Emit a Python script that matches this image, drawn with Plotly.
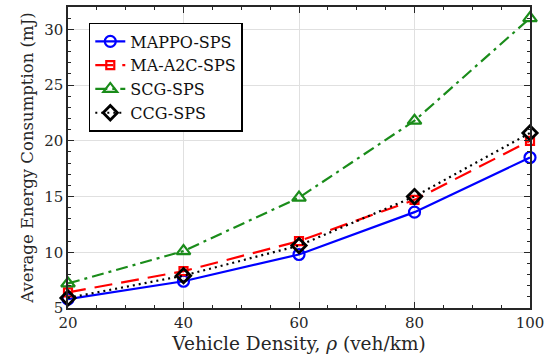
import plotly.graph_objects as go

x_vals = [20, 40, 60, 80, 100]
mappo = [5.8, 7.4, 9.8, 13.6, 18.5]
ma_a2c = [6.4, 8.3, 11.0, 14.7, 20.0]
scg = [7.2, 10.1, 14.9, 21.8, 31.0]
ccg = [5.9, 7.9, 10.6, 15.0, 20.7]
names = ["MAPPO-SPS", "MA-A2C-SPS", "SCG-SPS", "CCG-SPS"]

fig = go.Figure()
fig.add_trace(go.Scatter(x=x_vals, y=mappo, name=names[0], mode="lines+markers",
    line=dict(color="#0000ff", width=2.2),
    marker=dict(symbol="circle-open", size=11, color="#0000ff", line=dict(width=2.2))))
fig.add_trace(go.Scatter(x=x_vals, y=ma_a2c, name=names[1], mode="lines+markers",
    line=dict(color="#ff0000", width=2.2, dash="18px,9px"),
    marker=dict(symbol="square-open", size=8, color="#ff0000", line=dict(width=2.2))))
fig.add_trace(go.Scatter(x=x_vals, y=scg, name=names[2], mode="lines+markers",
    line=dict(color="#1a8c1a", width=2.2, dash="12px,5px,3px,5px"),
    marker=dict(symbol="triangle-up-open", size=12, color="#1a8c1a", line=dict(width=2.2))))
fig.add_trace(go.Scatter(x=x_vals, y=ccg, name=names[3], mode="lines+markers",
    line=dict(color="#000000", width=2.2, dash="2px,4px"),
    marker=dict(symbol="diamond-open", size=11, color="#000000", line=dict(width=2.8))))

fig.update_traces(cliponaxis=False)

font_family = "DejaVu Serif"
axis_common = dict(
    showline=True, mirror="allticks", linecolor="#262626", linewidth=1.5,
    ticks="inside", ticklen=6, tickwidth=1.2, tickcolor="#262626",
    showgrid=True, gridcolor="#e0e0e0", gridwidth=1.2, zeroline=False,
    tickfont=dict(family=font_family, size=15, color="#262626"),
    automargin=False, ticklabeloverflow="allow",
)
fig.update_xaxes(range=[20, 100], tickvals=x_vals,
    minor=dict(dtick=5, ticks="inside", ticklen=3, tickcolor="#262626", showgrid=False),
    title=dict(text="Vehicle Density, <i>ρ</i> (veh/km)", standoff=6,
               font=dict(family=font_family, size=18.5, color="#262626")),
    **axis_common)
fig.update_yaxes(range=[5, 32], tickvals=[5, 10, 15, 20, 25, 30],
    minor=dict(dtick=1, ticks="inside", ticklen=3, tickcolor="#262626", showgrid=False),
    title=dict(text="Average Energy Consumption (mJ)", standoff=6,
               font=dict(family=font_family, size=16.5, color="#262626")),
    **axis_common)

fig.update_layout(
    width=545, height=362,
    margin=dict(l=68, r=15, t=7, b=54),
    plot_bgcolor="white", paper_bgcolor="white",
    legend=dict(x=0.045, y=0.947, xanchor="left", yanchor="top",
                bgcolor="white", bordercolor="#000000", borderwidth=1.5,
                font=dict(family=font_family, size=16, color="#111111"),
                tracegroupgap=0),
    showlegend=True,
)
fig.write_html("out.html", config={"displayModeBar": False},
               post_script="document.body.style.margin='0px';document.body.style.overflow='hidden';")
